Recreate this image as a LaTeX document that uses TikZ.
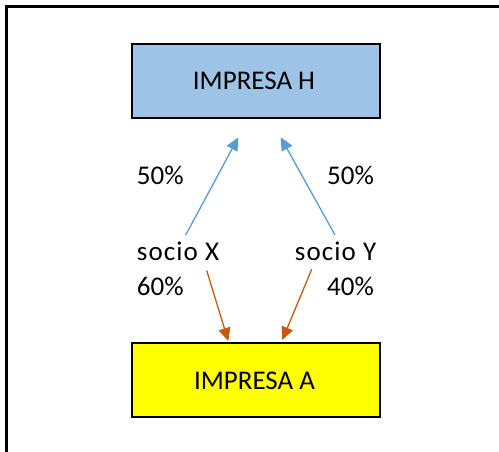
\documentclass[tikz,border=0pt]{standalone}
\usepackage{fontspec}
\setmainfont{Carlito}
\usetikzlibrary{arrows.meta}
\definecolor{boxblue}{HTML}{9DC3E6}
\definecolor{boxyellow}{HTML}{FFFF00}
\definecolor{arrblue}{HTML}{5B9BD5}
\definecolor{arrorange}{HTML}{C55A11}
\begin{document}
\begin{tikzpicture}[x=1pt,y=-1pt,
  company/.style={draw=black,line width=2.4pt,minimum width=248pt,minimum height=74pt,inner sep=0pt,
    font=\fontsize{27}{32}\selectfont},
  lbl/.style={inner sep=0pt,font=\fontsize{27}{32}\selectfont},
  wide/.style={font=\fontsize{27}{32}\selectfont\addfontfeatures{LetterSpace=4}},
  arrowblue/.style={draw=arrblue,line width=1.3pt,-{Triangle[length=13pt,width=12pt]}},
  arroworange/.style={draw=arrorange,line width=1.3pt,-{Triangle[length=13pt,width=12pt]}}]
\useasboundingbox (0,0) rectangle (499,452);
\fill[white] (0,0) rectangle (499,452);
\draw[line width=2.5pt] (6.5,452) -- (6.5,6.5) -- (499,6.5);
% boxes
\node[company,fill=boxblue] (H) at (256,81) {};
\node[lbl] (Ht) at (254,81) {IMPRESA H};
\node[company,fill=boxyellow] (A) at (256,380) {};
\node[lbl] (At) at (254.5,380.5) {IMPRESA A};
% labels
\node[lbl,anchor=base west] (pxh) at (136.7,185) {50\%};
\node[lbl,anchor=base east] (pyh) at (374,185) {50\%};
\node[lbl,wide,anchor=base west] (sx) at (136.7,260) {socio X};
\node[lbl,wide,anchor=base east] (sy) at (376.5,260) {socio Y};
\node[lbl,anchor=base west] (pxa) at (136.7,295.5) {60\%};
\node[lbl,anchor=base east] (pya) at (374,295.5) {40\%};
% connector ends
\coordinate (xs) at (185.7,235);
\coordinate (xh) at (238.3,137.3);
\coordinate (ys) at (335,235);
\coordinate (yh) at (280.7,137.3);
\coordinate (xa0) at (206.7,270.5);
\coordinate (xa) at (228.3,341);
\coordinate (ya0) at (311.7,269.3);
\coordinate (ya) at (282.3,340);
\draw[arrowblue] (xs) -- (xh);
\draw[arrowblue] (ys) -- (yh);
\draw[arroworange] (xa0) -- (xa);
\draw[arroworange] (ya0) -- (ya);
\end{tikzpicture}
\end{document}
